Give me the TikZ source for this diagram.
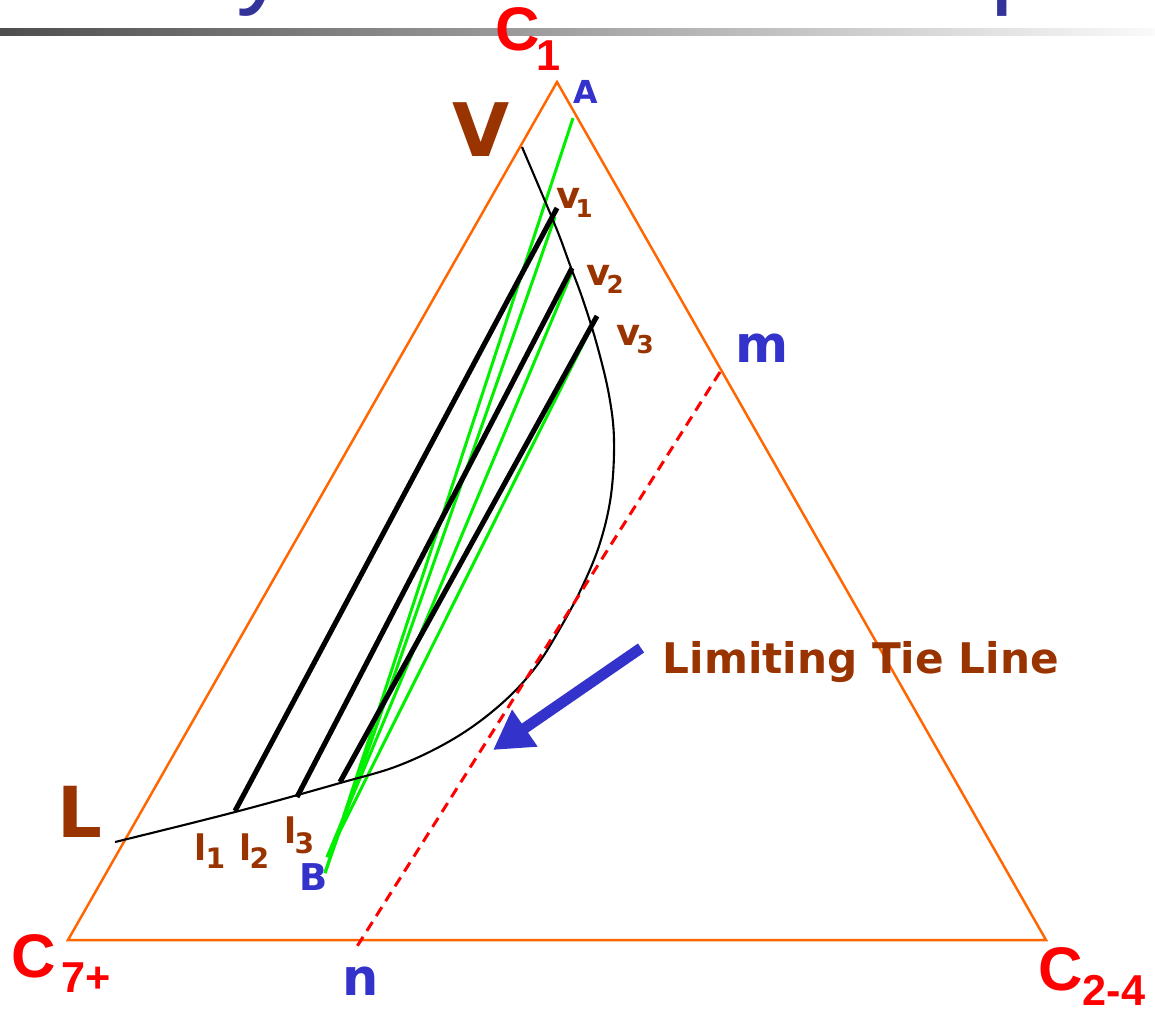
\documentclass[tikz,border=0pt]{standalone}
\usepackage{fontspec}
\setmainfont{DejaVu Sans}
\newfontfamily\arialb{Liberation Sans}[BoldFont=* Bold]
\usetikzlibrary{arrows.meta}
\definecolor{triorange}{HTML}{FF6600}
\definecolor{lblred}{HTML}{FF0000}
\definecolor{lblblue}{HTML}{3333CC}
\definecolor{lblbrown}{HTML}{993300}
\definecolor{titleblue}{HTML}{333399}
\definecolor{tiegreen}{HTML}{00F000}
\definecolor{bardark}{HTML}{4E4E4E}
\definecolor{barlight}{HTML}{FAFAFA}
\tikzset{
  lbl/.style={inner sep=0pt, anchor=base west},
  clbl/.style={lbl, text=lblred, font=\arialb\bfseries\fontsize{17.5}{18}\selectfont},
  csub/.style={lbl, text=lblred, font=\arialb\bfseries\fontsize{12.3}{13}\selectfont},
  bluelbl/.style={lbl, text=lblblue, font=\bfseries\fontsize{#1}{#1}\selectfont},
  brownlbl/.style={lbl, text=lblbrown, font=\bfseries\fontsize{#1}{#1}\selectfont},
  ttl/.style={lbl, text=titleblue, font=\arialb\fontsize{30}{30}\selectfont},
  triline/.style={draw=triorange, line width=0.7pt, line join=miter},
  phase/.style={draw=black, line width=0.6pt},
  tieline/.style={draw=black, line width=1.45pt},
  greenline/.style={draw=tiegreen, line width=0.85pt},
  limline/.style={draw=lblred, line width=0.85pt, dash pattern=on 3pt off 2pt},
}
\begin{document}
\begin{tikzpicture}[x=0.01cm, y=-0.01cm]
\useasboundingbox (0,0) rectangle (1155,1008);
\fill[white] (0,0) rectangle (1155,1008);
% cut-off title
\node[ttl] (ttly) at (236,-6) {y};
\node[ttl] (ttlp) at (990,-6) {p};
% gradient bar
\shade[left color=bardark, right color=barlight] (0,28) rectangle (1155,35);

% triangle corners
\coordinate (T1) at (557,82);
\coordinate (T7) at (68,940);
\coordinate (T24) at (1046,940);
\path[triline] (T1) -- (T7) -- (T24) -- cycle;

% green lines
\coordinate (gA) at (573,118);
\coordinate (g2t) at (555,217);
\coordinate (g3t) at (572,272);
\coordinate (g4t) at (594,322);
\coordinate (gB1) at (325,873);
\coordinate (gB2) at (327,857);
\draw[greenline] (gA) -- (gB1);
\draw[greenline] (g2t) -- (gB1);
\draw[greenline] (g3t) -- (gB2);
\draw[greenline] (g4t) -- (gB2);

% phase envelope
\draw[phase] plot[smooth, tension=0.6] coordinates {
 (115,842) (235,812) (340,783) (400,765) (455,738) (500,705)
 (535,668) (562,625) (583,585) (600,543) (611,495) (614,440)
 (609,395) (597,345) (583,300) (570,265) (555,225) (522,147)};

% tie lines
\coordinate (l1p) at (235,811); \coordinate (v1p) at (557,208);
\coordinate (l2p) at (297,797); \coordinate (v2p) at (572,268);
\coordinate (l3p) at (340,782); \coordinate (v3p) at (597,316);
\draw[tieline] (l1p) -- (v1p);
\draw[tieline] (l2p) -- (v2p);
\draw[tieline] (l3p) -- (v3p);

% limiting tie line
\coordinate (mp) at (720,372);
\coordinate (np) at (356,948);
\draw[limline] (mp) -- (np);

% arrow
\coordinate (arS) at (641,648);
\coordinate (arE) at (493,750);
\draw[draw=lblblue, line width=3.1pt, -{Triangle[length=11pt,width=12pt]}] (arS) -- (arE);
\node[brownlbl=12] (limtxt) at (662,673) {Limiting Tie Line};

% corner labels
\node[clbl] (c1) at (495,50) {C};
\node[csub] (c1s) at (536,70) {1};
\node[clbl] (c7) at (11,977) {C};
\node[csub] (c7s) at (61,992) {7+};
\node[clbl] (c24) at (1038,990) {C};
\node[csub] (c24s) at (1082,1005) {2-4};

% blue labels
\node[bluelbl=9] (lA) at (573,103) {A};
\node[bluelbl=10.5] (lB) at (299,890) {B};
\node[bluelbl=14.5] (lm) at (735,362) {m};
\node[bluelbl=14.5] (ln) at (342,995) {n};

% brown labels
\node[brownlbl=21] (lV) at (452,156) {V};
\node[brownlbl=20] (lL) at (57,837) {L};
\node[brownlbl=10.5] (tv1) at (556,208) {v};
\node[brownlbl=7] (tv1s) at (575,217) {1};
\node[brownlbl=10.5] (tv2) at (586,285) {v};
\node[brownlbl=7] (tv2s) at (606,293) {2};
\node[brownlbl=10.5] (tv3) at (616,345) {v};
\node[brownlbl=7] (tv3s) at (636,353) {3};
\node[brownlbl=10] (tl1) at (194,860) {l};
\node[brownlbl=8] (tl1s) at (205,868) {1};
\node[brownlbl=10] (tl2) at (239,860) {l};
\node[brownlbl=8] (tl2s) at (249,868) {2};
\node[brownlbl=10] (tl3) at (284,843) {l};
\node[brownlbl=8] (tl3s) at (294,853) {3};
\end{tikzpicture}
\end{document}
